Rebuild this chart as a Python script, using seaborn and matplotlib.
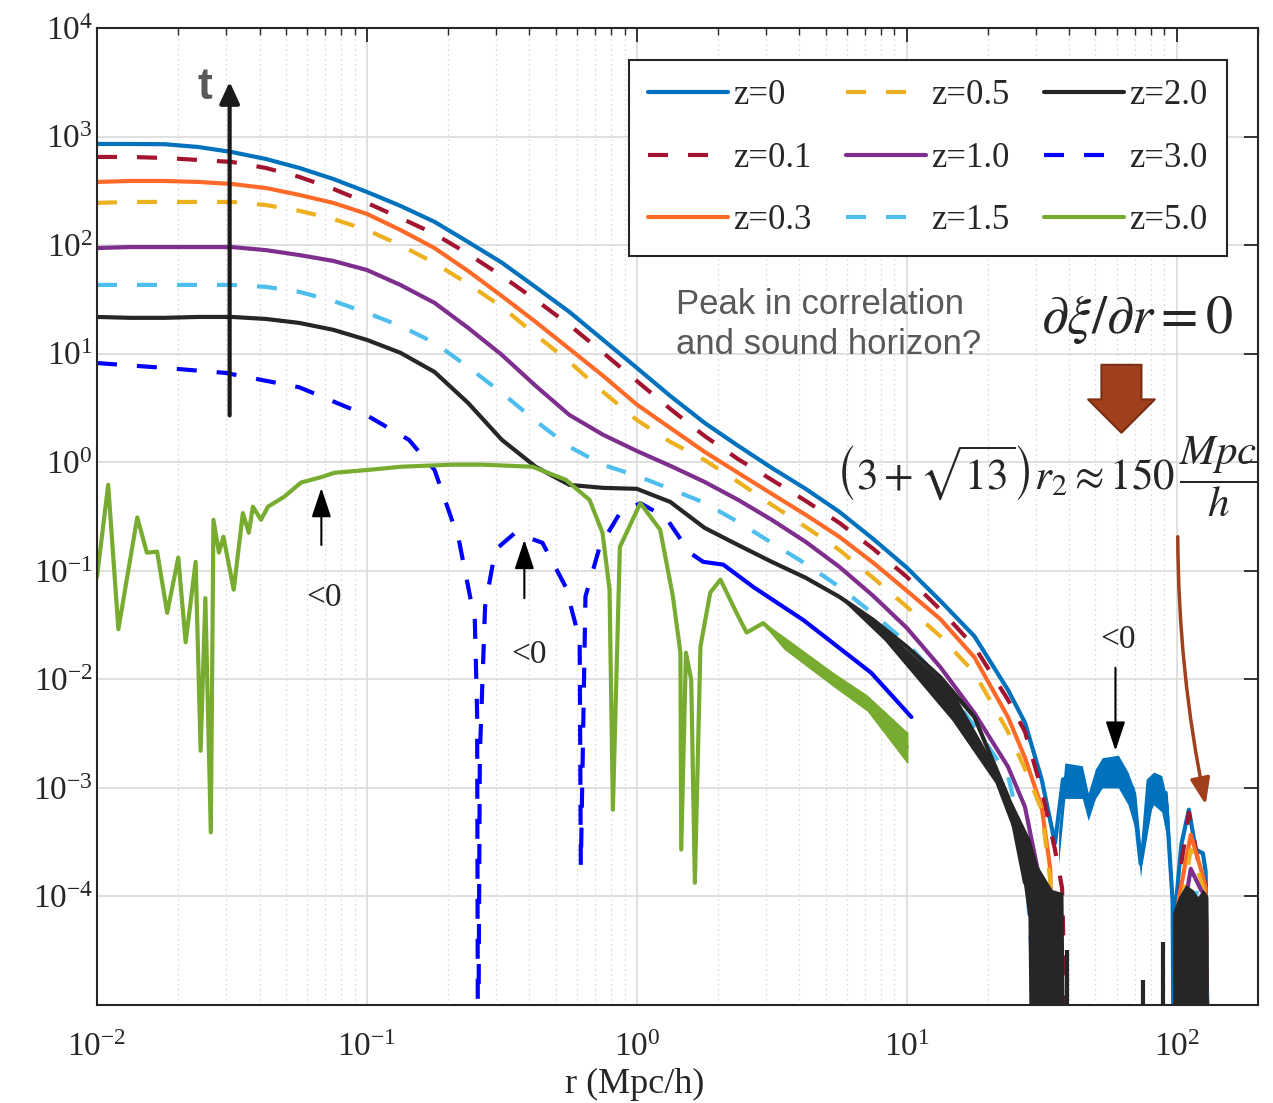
import matplotlib.pyplot as plt
import seaborn as sns

sns.set_theme(style="white")
plt.rcParams["font.family"] = ["Liberation Serif", "DejaVu Serif"]
plt.rcParams["mathtext.fontset"] = "stix"

# ── values: r in Mpc/h, xi(r) ────────────────────────────────────────
# eighth-decade grid used for the smooth curves
r_grid = [0.0100, 0.0133, 0.0178, 0.0237, 0.0316, 0.0422, 0.0562, 0.075, 0.100, 0.133,
          0.178, 0.237, 0.316, 0.422, 0.562, 0.75, 1.00, 1.33, 1.78, 2.37,
          3.16, 4.22, 5.62, 7.5, 10.0, 13.3, 17.8, 23.7, 27.4, 31.6]

xi_z0 = [855, 855, 850, 802, 720, 622, 514, 407, 309, 230,
         164, 107, 69, 41, 24.3, 13.4, 7.4, 4.08, 2.31, 1.42,
         0.887, 0.569, 0.35, 0.197, 0.107, 0.053, 0.025, 0.0080, 0.0040, 0.0012]
r_z0_far = [34.0, 35.4, 37.9, 44.7, 47.0, 53.0, 55.8, 60.8, 68.6, 73.5, 82.1, 91.0,
            96.6, 97.5, 99.5, 104, 110.9, 117.7, 125, 128, 131]
xi_z0_far = [0.0005, 0.00031, 0.0012, 0.0012, 0.0007, 0.0014, 0.0012, 0.0014, 0.001,
             0.0002, 0.001, 0.0009, 0.00009, 1e-6, 9e-5, 0.0003, 0.00063, 0.00027,
             0.00025, 0.00017, 1e-6]
blue_band_r = [36.5, 38.5, 44.7, 47.0, 50.0, 53.0, 60.8, 66.0, 70.5, 73.5, 77.0, 82.1,
               88.0, 93.0, 96.6]
blue_band_hi = [0.0004, 0.0017, 0.0016, 0.0009, 0.0015, 0.0019, 0.0020, 0.0014, 0.0009,
                0.0003, 0.0012, 0.0014, 0.0013, 0.0007, 0.0001]
blue_band_lo = [0.0002, 0.0008, 0.0008, 0.0005, 0.0008, 0.0010, 0.0010, 0.0007, 0.0004,
                0.00015, 0.0005, 0.0007, 0.0006, 0.0003, 0.00005]

xi_z01 = [649, 649, 635, 609, 584, 514, 425, 330, 245, 178,
          127, 83, 52, 31.3, 18.4, 10.2, 5.6, 3.10, 1.75, 1.07,
          0.689, 0.441, 0.277, 0.160, 0.088, 0.044, 0.020, 0.0065, 0.0033, 0.00096]
r_z01_far = [35.4, 37.6, 39.5, 96, 104, 110.9, 119.7, 128, 131]
xi_z01_far = [0.00027, 0.00012, 1e-6, 1e-6, 0.0002, 0.00059, 0.00022, 0.000128, 1e-6]

xi_z03 = [382, 390, 390, 382, 366, 336, 290, 245, 194, 138,
          94, 57.8, 34.0, 19.6, 11.1, 6.25, 3.4, 2.07, 1.25, 0.80,
          0.512, 0.328, 0.206, 0.119, 0.0655, 0.036, 0.016, 0.0045, 0.0019, 0.00067]
r_z03_far = [34.0, 35.5, 96, 101.7, 112.7, 122.8, 128, 131]
xi_z03_far = [0.00018, 1e-6, 1e-6, 9.4e-5, 0.00037, 0.00018, 0.00012, 1e-6]

xi_z05 = [245, 250, 250, 250, 250, 234, 207, 174, 138, 100,
          68.5, 44.0, 27.0, 14.9, 8.42, 4.44, 2.45, 1.54, 1.05, 0.66,
          0.406, 0.254, 0.156, 0.0863, 0.0467, 0.025, 0.0115, 0.0033, 0.0015, 0.00063]
r_z05_far = [34.0, 35.5, 96, 103.5, 112.7, 122.8, 128, 131]
xi_z05_far = [0.00014, 1e-6, 1e-6, 7.6e-5, 0.00027, 0.00014, 0.0001, 1e-6]

xi_z10 = [94, 96, 96, 96, 96, 90, 81, 71.6, 59, 43.0,
          29.4, 17.3, 9.75, 5.05, 2.73, 1.79, 1.27, 0.927, 0.66, 0.451,
          0.295, 0.185, 0.109, 0.0589, 0.0298, 0.0130, 0.0049, 0.00157, 0.00067, 0.000116]
r_z10_far = [33.0, 96, 103.5, 112.7, 122.8, 128, 131]
xi_z10_far = [1e-6, 1e-6, 4.9e-5, 0.00018, 0.000116, 0.0001, 1e-6]

xi_z15 = [43, 43, 43, 43, 43, 41.3, 37.1, 30.6, 23.8, 18.0,
          12.6, 7.55, 4.36, 2.40, 1.39, 0.946, 0.75, 0.569, 0.423, 0.282,
          0.181, 0.116, 0.0713, 0.0402, 0.0217, 0.0099, 0.0037, 0.00131, 0.00027, 1e-6]
r_z15_far = [96, 103.5, 112.7, 122.8, 128, 131]
xi_z15_far = [1e-6, 3.2e-5, 0.000108, 0.000108, 1e-4, 1e-6]

r_z20 = r_grid[:-1]
xi_z20 = [21.8, 21.4, 21.4, 21.8, 21.8, 20.9, 19.2, 16.6, 13.4, 10.2,
          6.79, 3.52, 1.61, 0.908, 0.619, 0.581, 0.569, 0.431, 0.249, 0.173,
          0.121, 0.0863, 0.0577, 0.0354, 0.020, 0.0105, 0.0045, 0.00083, 0.000134]

# z=2.0 noise: sign flips fill the region down to the axis
band_r = [5.62, 8.24, 14.7, 21.2, 25.8, 28.1, 28.6, 30.6, 34.5, 37.9, 38.6]
band_hi = [0.058, 0.029, 0.0080, 0.0016, 0.00057, 0.00037, 0.00034, 0.00019, 0.000116,
           0.000108, 1e-6]
band_lo = [0.057, 0.023, 0.0042, 0.00112, 0.00031, 6.5e-5, 1e-6, 1e-6, 1e-6, 1e-6, 1e-6]
bump_r = [96.6, 101.7, 108, 114.7, 119.7, 125, 128, 130.5, 131.6]
bump_hi = [7.1e-5, 1e-4, 0.000128, 0.000116, 1e-4, 0.000116, 0.000108, 0.0001, 1e-6]
bump_lo = [1e-6] * len(bump_r)
spike_r = [39.3, 74.7, 88.7]
spike_top = [3.2e-5, 1.7e-5, 3.8e-5]

r_z30 = [0.0100, 0.0178, 0.030, 0.0562, 0.100, 0.143, 0.178, 0.219, 0.251, 0.256,
         0.258, 0.262, 0.274, 0.299, 0.354, 0.447, 0.545, 0.614, 0.62, 0.645, 0.728,
         0.865, 1.03, 1.28, 1.57, 1.76]
xi_z30 = [8.2, 7.4, 6.65, 4.9, 2.7, 1.61, 0.85, 0.193, 0.035, 0.0049,
          1e-6, 0.002, 0.047, 0.156, 0.224, 0.181, 0.071, 0.023, 0.00019, 0.058, 0.166,
          0.34, 0.42, 0.31, 0.147, 0.121]
r_z30_tail = [1.76, 2.09, 2.70, 4.15, 7.38, 10.4]
xi_z30_tail = [0.121, 0.114, 0.071, 0.035, 0.0115, 0.0045]

r_z50 = [0.010, 0.011, 0.012, 0.0141, 0.0153, 0.0167, 0.0182, 0.0200, 0.0213, 0.0232,
         0.0242, 0.0252, 0.0264, 0.0270, 0.0283, 0.0294, 0.0321, 0.0347, 0.0365,
         0.0378, 0.0405, 0.043, 0.0493, 0.057, 0.0678, 0.0757, 0.101, 0.134, 0.207,
         0.267, 0.41, 0.545, 0.668, 0.746, 0.792, 0.815, 0.865, 1.03, 1.22, 1.36,
         1.45, 1.46, 1.52, 1.59, 1.64, 1.72, 1.87, 2.04, 2.34, 2.55, 2.94, 3.5, 5.37,
         7.13, 10.0]
xi_z50 = [0.088, 0.62, 0.029, 0.31, 0.147, 0.150, 0.041, 0.132, 0.022, 0.121,
          0.0022, 0.056, 0.00039, 0.295, 0.147, 0.206, 0.067, 0.34, 0.224,
          0.39, 0.295, 0.39, 0.48, 0.65, 0.73, 0.80, 0.85, 0.91, 0.95,
          0.95, 0.91, 0.69, 0.45, 0.224, 0.067, 0.00063, 0.166, 0.42, 0.239, 0.058,
          0.0176, 0.00027, 0.0176, 0.0099, 0.000134, 0.020, 0.063, 0.083, 0.041, 0.027,
          0.033, 0.022, 0.0099, 0.0061, 0.0024]
green_band_r = [2.94, 3.5, 5.37, 7.13, 10.0, 10.1]
green_band_hi = [0.034, 0.025, 0.0115, 0.0072, 0.0033, 0.0033]
green_band_lo = [0.032, 0.019, 0.0085, 0.0051, 0.0017, 0.0017]

DASH = (0, (4.8, 4.8))
BLACK = "#262626"
curves = [
    ("z=0",   r_grid, xi_z0,  r_z0_far,  xi_z0_far,  "#0072BD", "-"),
    ("z=0.1", r_grid, xi_z01, r_z01_far, xi_z01_far, "#A2142F", DASH),
    ("z=0.3", r_grid, xi_z03, r_z03_far, xi_z03_far, "#FF6A29", "-"),
    ("z=0.5", r_grid, xi_z05, r_z05_far, xi_z05_far, "#EDB120", DASH),
    ("z=1.0", r_grid, xi_z10, r_z10_far, xi_z10_far, "#7E2F8E", "-"),
    ("z=1.5", r_grid, xi_z15, r_z15_far, xi_z15_far, "#4DBEEE", DASH),
    ("z=2.0", r_z20,  xi_z20, [], [], BLACK, "-"),
    ("z=3.0", r_z30,  xi_z30, [], [], "#0000FF", DASH),
    ("z=5.0", r_z50,  xi_z50, [], [], "#77AC30", "-"),
]

# ── figure ───────────────────────────────────────────────────────────
fig = plt.figure(figsize=(12.73, 11.03), dpi=100)
ax = fig.add_axes([0.0762, 0.0888, 0.912, 0.8858])
ax.set_xscale("log")
ax.set_yscale("log")

handles, labels = [], []
for label, r, xi, r_far, xi_far, color, ls in curves:
    sns.lineplot(x=r + r_far, y=xi + xi_far, color=color, lw=3, ls=ls,
                 estimator=None, sort=False, ax=ax)
    handles.append(ax.lines[-1])
    labels.append(label)

sns.lineplot(x=r_z30_tail, y=xi_z30_tail, color="#0000FF", lw=3, estimator=None,
             sort=False, ax=ax)
ax.fill_between(blue_band_r, blue_band_lo, blue_band_hi, color="#0072BD", lw=0, zorder=2)
ax.fill_between(green_band_r, green_band_lo, green_band_hi, color="#77AC30", lw=0, zorder=2)
ax.fill_between(band_r, band_lo, band_hi, color=BLACK, lw=0, zorder=2.1)
ax.fill_between(bump_r, bump_lo, bump_hi, color=BLACK, lw=0, zorder=2.1)
ax.vlines(spike_r, 1e-6, spike_top, color=BLACK, lw=3, zorder=2.1)

ax.set_xlim(1e-2, 200)
ax.set_ylim(1e-5, 1e4)
ax.set_xticks([1e-2, 1e-1, 1e0, 1e1, 1e2])
ax.set_yticks([1e-4, 1e-3, 1e-2, 1e-1, 1e0, 1e1, 1e2, 1e3, 1e4])
ax.set_xlabel("r (Mpc/h)", fontsize=26)
ax.xaxis.set_label_coords(0.463, -0.064)
ax.set_ylabel("")

ax.set_axisbelow(True)
ax.grid(True, which="major", color="#DADADA", lw=1.2, ls="-")
ax.grid(True, which="minor", color="#CDCDCD", lw=0.9, ls=(0, (1, 3)))
ax.tick_params(which="both", direction="in", top=True, right=True, color=BLACK)
ax.tick_params(which="major", length=10, width=1.3, labelsize=24, labelcolor=BLACK)
ax.tick_params(axis="x", which="major", pad=20)
ax.tick_params(axis="y", which="major", pad=3)
ax.tick_params(which="minor", length=5, width=1.0)
for sp in ax.spines.values():
    sp.set_color(BLACK)
    sp.set_linewidth(1.5)

leg = ax.legend(handles, labels, ncol=3, loc="upper right", bbox_to_anchor=(0.973, 0.967),
                borderaxespad=0, fancybox=False, framealpha=1, edgecolor=BLACK,
                fontsize=25, handlelength=2.3, handletextpad=0.15, columnspacing=1.0,
                labelspacing=0.85, borderpad=0.55)
leg.get_frame().set_linewidth(1.5)

# ── annotations ──────────────────────────────────────────────────────
arrow_kw = dict(arrowstyle="-|>,head_length=0.9,head_width=0.3", mutation_scale=20,
                color="black", lw=1.5, shrinkA=0, shrinkB=0)
ax.annotate("", xy=(0.031, 3200), xytext=(0.031, 2.7),
            arrowprops=dict(arrowstyle="-|>,head_length=0.65,head_width=0.3",
                            mutation_scale=20, color="#1A1A1A", lw=3, shrinkA=0, shrinkB=0))
ax.text(0.0252, 2850, "t", fontsize=32, fontweight="bold", color="#595959",
        family="Liberation Sans", ha="center", va="center")

ax.annotate("", xy=(0.0678, 0.58), xytext=(0.0678, 0.173), arrowprops=arrow_kw)
ax.text(0.0695, 0.056, "<0", fontsize=24, ha="center", va="center")
ax.annotate("", xy=(0.383, 0.193), xytext=(0.383, 0.056), arrowprops=arrow_kw)
ax.text(0.40, 0.0169, "<0", fontsize=24, ha="center", va="center")
ax.annotate("", xy=(59.3, 0.0022), xytext=(59.3, 0.0128), arrowprops=arrow_kw)
ax.text(60.6, 0.023, "<0", fontsize=24, ha="center", va="center")

ax.text(1.40, 18.5, "Peak in correlation\nand sound horizon?", fontsize=25,
        family="Liberation Sans", color="#595959", ha="left", va="center", linespacing=1.25)
ax.text(71.6, 20.5, r"$\partial\xi/\partial r=0$", fontsize=39, ha="center", va="center")
ax.annotate("", xy=(62.4, 1.87), xytext=(62.4, 7.9),
            arrowprops=dict(arrowstyle="simple,head_length=0.6,head_width=1.2,tail_width=0.72",
                            mutation_scale=40, fc="#A0401C", ec="#7A2E14", lw=1.5,
                            shrinkA=0, shrinkB=0))
ax.text(33.0, 0.74, r"$\left(3+\sqrt{13}\right)r_2\approx 150\,\dfrac{Mpc}{h}$",
        fontsize=31, ha="center", va="center")
ax.annotate("", xy=(128, 7e-4), xytext=(100.9, 0.206),
            arrowprops=dict(arrowstyle="-|>,head_length=0.8,head_width=0.3",
                            mutation_scale=20, color="#A0401C", lw=2.5,
                            connectionstyle="arc3,rad=0.05", shrinkA=0, shrinkB=0))

fig.savefig("out.png", dpi=100)
